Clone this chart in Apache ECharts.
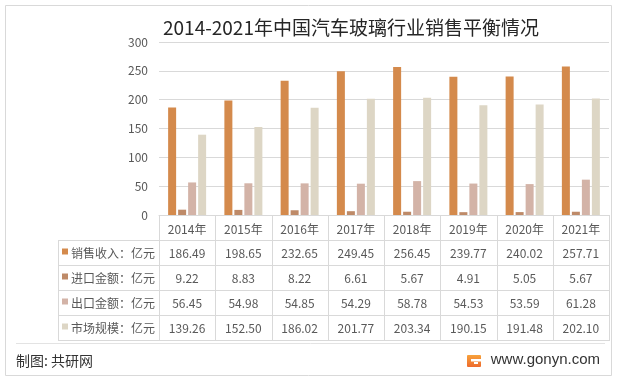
<!DOCTYPE html>
<html><head><meta charset="utf-8">
<script src="https://cdn.jsdelivr.net/npm/echarts@6/dist/echarts.min.js"></script>
<style>html,body{margin:0;padding:0;background:#fff}#c{width:620px;height:380px}</style>
</head><body><div id="c"></div>
<script>
const titleText = '2014-2021年中国汽车玻璃行业销售平衡情况';
const years = ['2014年','2015年','2016年','2017年','2018年','2019年','2020年','2021年'];
const seriesNames = ['销售收入：亿元','进口金额：亿元','出口金额：亿元','市场规模：亿元'];
const sales   = [186.49,198.65,232.65,249.45,256.45,239.77,240.02,257.71];
const imports = [9.22,8.83,8.22,6.61,5.67,4.91,5.05,5.67];
const exportsV= [56.45,54.98,54.85,54.29,58.78,54.53,53.59,61.28];
const market  = [139.26,152.50,186.02,201.77,203.34,190.15,191.48,202.10];
const colors  = ['#D48A4C','#BE8A68','#D3B3A7','#DDD6C5'];
const sourceText = '制图: 共研网';
const siteText = 'www.gonyn.com';

const allData = [sales, imports, exportsV, market];
const FONT = '"Noto Sans CJK SC", "Noto Sans", sans-serif';
const chart = echarts.init(document.getElementById('c'), null, {renderer:'canvas'});

const gridTop = 42, gridBottomY = 215, plotLeft = 159, plotRight = 609;
const tableLeft = 58, rowTop = 240, rowH = 25;

chart.setOption({
  animation:false,
  backgroundColor:'#fff',
  title:{text:titleText,left:158,top:13,textStyle:{fontFamily:FONT,fontSize:19,fontWeight:'normal',color:'#262626'}},
  grid:{left:plotLeft,right:620-plotRight,top:gridTop,bottom:380-gridBottomY},
  xAxis:{type:'category',data:years,
    axisLine:{lineStyle:{color:'#D9D9D9'}},axisTick:{show:false},
    axisLabel:{margin:8,fontFamily:FONT,fontSize:12,color:'#595959'}},
  yAxis:{type:'value',min:0,max:300,interval:50,
    axisLabel:{margin:11,fontFamily:FONT,fontSize:12,color:'#595959'},
    splitLine:{lineStyle:{color:'#D9D9D9'}},axisLine:{show:false},axisTick:{show:false}},
  series: allData.map((d,i)=>({type:'bar',name:seriesNames[i],data:d,barWidth:8,barGap:'25%',
    itemStyle:{color:colors[i]}}))
});

// build data table with graphic elements
const c0 = chart.convertToPixel({xAxisIndex:0}, 0);
const c1 = chart.convertToPixel({xAxisIndex:0}, 1);
const band = c1 - c0;
const g = [];
const lineColor = '#D9D9D9';
const tableBottom = rowTop + rowH*allData.length;
for (let r=0;r<=allData.length;r++){
  const y = rowTop + r*rowH + 0.5;
  g.push({type:'line',shape:{x1:tableLeft,y1:y,x2:plotRight+1,y2:y},style:{stroke:lineColor,lineWidth:1},silent:true});
}
g.push({type:'line',shape:{x1:tableLeft+0.5,y1:rowTop,x2:tableLeft+0.5,y2:tableBottom},style:{stroke:lineColor,lineWidth:1}});
for (let i=0;i<=years.length;i++){
  const x = Math.round(c0 - band/2 + i*band)+0.5;
  g.push({type:'line',shape:{x1:x,y1:gridBottomY,x2:x,y2:tableBottom},style:{stroke:lineColor,lineWidth:1}});
}
allData.forEach((d,r)=>{
  const cy = rowTop + r*rowH + rowH/2 + 0.5;
  d.forEach((v,i)=>{
    const cx = chart.convertToPixel({xAxisIndex:0}, i);
    g.push({type:'text',x:cx,y:cy,style:{text:v.toFixed(2),font:'12px '+FONT,fill:'#595959',textAlign:'center',textVerticalAlign:'middle'}});
  });
  g.push({type:'rect',shape:{x:62,y:cy-4.5,width:6,height:6},style:{fill:colors[r]}});
  g.push({type:'text',x:plotLeft-4,y:cy,style:{text:seriesNames[r],font:'12px '+FONT,fill:'#595959',textAlign:'right',textVerticalAlign:'middle'}});
});
// footer
g.push({type:'line',shape:{x1:16,y1:343.5,x2:605,y2:343.5},style:{stroke:'#E3E3E3',lineWidth:1}});
g.push({type:'text',x:16,y:361,style:{text:sourceText,font:'14px '+FONT,fill:'#333',textVerticalAlign:'middle'}});
g.push({type:'text',x:600,y:360,style:{text:siteText,font:'15px "Liberation Sans", Arial, sans-serif',fill:'#333',textAlign:'right',textVerticalAlign:'middle'}});
g.push({type:'rect',shape:{x:467,y:355,width:14,height:12,r:1},style:{fill:new echarts.graphic.LinearGradient(0,0,0,1,[{offset:0,color:'#F7A23B'},{offset:1,color:'#EE6A2C'}])}});
g.push({type:'rect',shape:{x:471,y:359,width:10,height:2.5},style:{fill:'#fff'}});
g.push({type:'rect',shape:{x:474,y:362,width:4,height:2},style:{fill:'#fff'}});
g.push({type:'rect',shape:{x:5.5,y:5.5,width:606,height:370},style:{fill:'none',stroke:'#D9D9D9',lineWidth:1}});
chart.setOption({graphic:g});
</script></body></html>
